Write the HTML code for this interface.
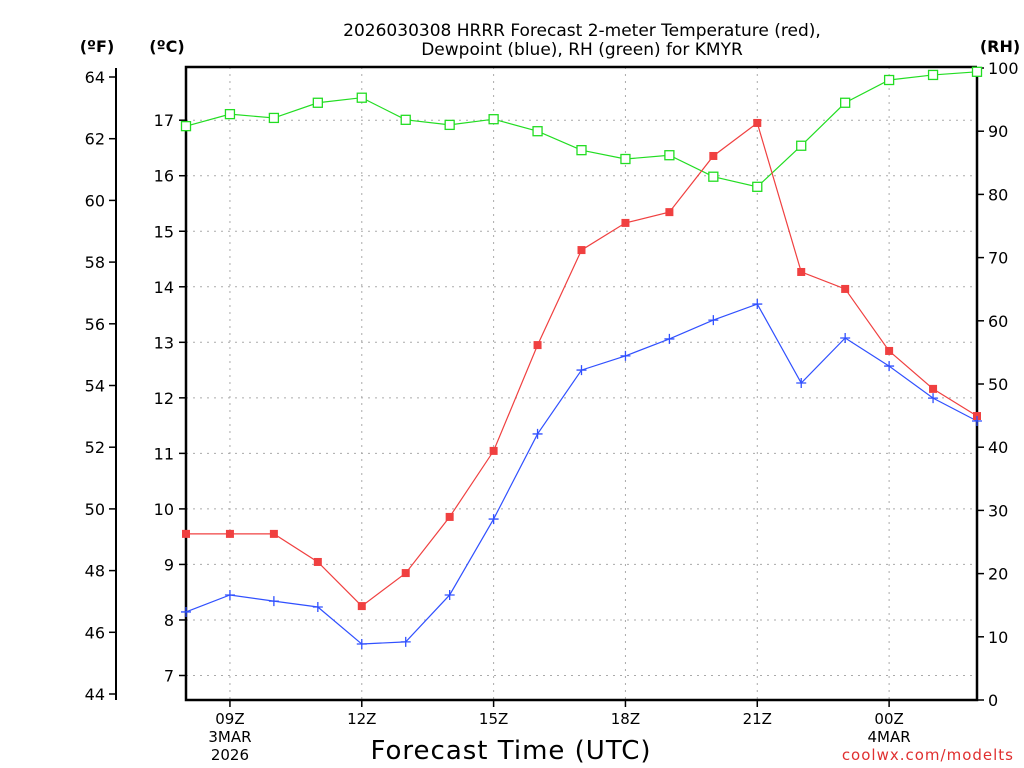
<!DOCTYPE html>
<html><head><meta charset="utf-8"><style>
body{margin:0;background:#fff;}
svg{display:block;font-family:"DejaVu Sans","Liberation Sans",sans-serif;}
</style></head><body>
<svg id="chart" width="1024" height="768" viewBox="0 0 1024 768">
<rect width="1024" height="768" fill="#fff"/>
<text x="582" y="36" font-size="17" text-anchor="middle">2026030308 HRRR Forecast 2-meter Temperature (red),</text>
<text x="582" y="55" font-size="17" text-anchor="middle">Dewpoint (blue), RH (green) for KMYR</text>
<text x="97" y="52" font-size="16" font-weight="bold" text-anchor="middle">(ºF)</text>
<text x="167" y="52" font-size="16" font-weight="bold" text-anchor="middle">(ºC)</text>
<text x="1000" y="52" font-size="16" font-weight="bold" text-anchor="middle">(RH)</text>
<text x="511" y="759" font-size="26" text-anchor="middle" letter-spacing="1">Forecast Time (UTC)</text>
<text x="1014" y="760" font-size="15" fill="#e03030" text-anchor="end" letter-spacing="1">coolwx.com/modelts</text>
<g id="grid"></g><g id="axes"></g><g id="series"></g>
</svg>
<script>
const hours = ["08","09","10","11","12","13","14","15","16","17","18","19","20","21","22","23","00","01","02"];
const xTickLabels = ["09Z","12Z","15Z","18Z","21Z","00Z"];
const xTickIdx = [1,4,7,10,13,16];
const tempF = [49.19,49.19,49.19,48.28,46.85,47.92,49.74,51.88,55.31,58.39,59.27,59.62,61.44,62.51,57.68,57.13,55.12,53.89,53.01];
const dewF = [46.66,47.21,47.01,46.82,45.62,45.69,47.21,49.67,52.43,54.50,54.96,55.51,56.12,56.64,54.08,55.54,54.63,53.59,52.85];
const rh = [90.8,92.7,92.1,94.5,95.3,91.8,91.0,91.9,90.0,87.0,85.6,86.2,82.8,81.2,87.7,94.5,98.1,98.9,99.4];
const fTicks = [44,46,48,50,52,54,56,58,60,62,64];
const cTicks = [7,8,9,10,11,12,13,14,15,16,17];
const rhTicks = [0,10,20,30,40,50,60,70,80,90,100];

const L=186,R=977,T=67,B=700;
const xs = i => L + i*(R-L)/(hours.length-1);
const yF = f => 77 + (64-f)*30.85;
const yC = c => yF(c*9/5+32);
const yRH = v => B - v*(B-68)/100;
const NS="http://www.w3.org/2000/svg";
function mk(tag,attrs,parent,txt){const e=document.createElementNS(NS,tag);for(const k in attrs)e.setAttribute(k,attrs[k]);if(txt!==undefined)e.textContent=txt;parent.appendChild(e);return e;}
const grid=document.getElementById('grid'),axes=document.getElementById('axes'),ser=document.getElementById('series');

xTickIdx.forEach((idx,j)=>{
  const x=xs(idx);
  const g=mk('line',{x1:x,x2:x,y1:T,y2:B,stroke:'#aaa','stroke-dasharray':'2,5'},grid);
  
  
  mk('line',{x1:x,x2:x,y1:B,y2:B+7,stroke:'#000','stroke-width':1.5},axes);
  const t=mk('text',{x:x,y:724,'font-size':15,'text-anchor':'middle'},axes,xTickLabels[j]);
  
  
});
[["3MAR","2026",1],["4MAR","",16]].forEach(d=>{
  const t1=mk('text',{x:xs(d[2]),y:742,'font-size':15,'text-anchor':'middle'},axes,d[0]);
  
  
  if(d[1]){const t2=mk('text',{x:xs(d[2]),y:760,'font-size':15,'text-anchor':'middle'},axes,d[1]);
  
  }
});
cTicks.forEach(c=>{
  const y=yC(c);
  const g=mk('line',{x1:L,x2:R,y1:y,y2:y,stroke:'#aaa','stroke-dasharray':'2,5'},grid);
  
  
  mk('line',{x1:L-7,x2:L,y1:y,y2:y,stroke:'#000','stroke-width':1.5},axes);
  const t=mk('text',{x:L-12,y:y+6,'font-size':16,'text-anchor':'end'},axes,c);
  
  
});
fTicks.forEach(f=>{
  const y=yF(f);
  mk('line',{x1:109,x2:116,y1:y,y2:y,stroke:'#000','stroke-width':1.5},axes);
  const t=mk('text',{x:105,y:y+6,'font-size':16,'text-anchor':'end'},axes,f);
  
  
});
rhTicks.forEach(v=>{
  const y=yRH(v);
  mk('line',{x1:R,x2:R+7,y1:y,y2:y,stroke:'#000','stroke-width':1.5},axes);
  const t=mk('text',{x:R+11,y:y+6,'font-size':16,'text-anchor':'start'},axes,v);
  
  
});
mk('line',{x1:116,x2:116,y1:68,y2:B,stroke:'#000','stroke-width':2},axes);
const frame=mk('path',{d:`M${R},${T}H${L}V${B}H${R}V${T}`,fill:'none',stroke:'#000','stroke-width':2.5},axes);



function line(vals,yfn,color,name){
  const p=mk('polyline',{points:vals.map((v,i)=>xs(i)+','+yfn(v)).join(' '),fill:'none',stroke:color,'stroke-width':1.2},ser);
  
  
}
line(rh,yRH,'#22dd22','rh');
line(tempF,yF,'#f04040','temperature');
line(dewF,yF,'#3050ff','dewpoint');
rh.forEach((v,i)=>{
  const m=mk('rect',{x:xs(i)-4.5,y:yRH(v)-4.5,width:9,height:9,fill:'#fff',stroke:'#22dd22','stroke-width':1.3},ser);
  
  
});
tempF.forEach((v,i)=>{
  const m=mk('rect',{x:xs(i)-4,y:yF(v)-4,width:8,height:8,fill:'#f04040'},ser);
  
  
});
dewF.forEach((v,i)=>{
  const x=xs(i),y=yF(v);
  const m=mk('path',{d:`M${x-5},${y}H${x+5}M${x},${y-5}V${y+5}`,stroke:'#3050ff','stroke-width':1.3},ser);
  
  
});
</script>
</body></html>
